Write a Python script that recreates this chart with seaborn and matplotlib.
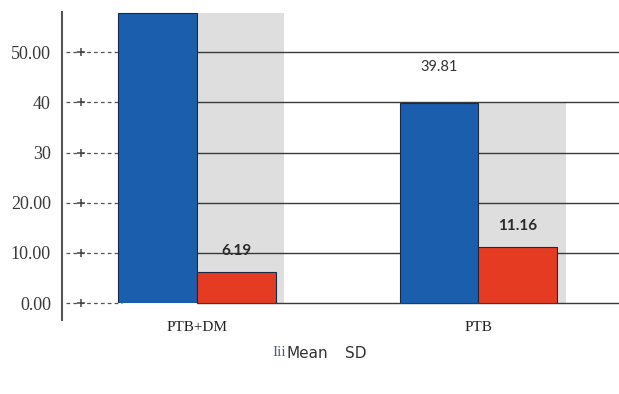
import numpy as np
import pandas as pd
import matplotlib
matplotlib.use("Agg")
import matplotlib.pyplot as plt
import matplotlib.transforms as mtransforms
import seaborn as sns

# Data
groups = ["PTB+DM", "PTB"]
series = ["Mean", "SD"]
mean_values = [57.8, 39.81]
sd_values = [6.19, 11.16]
y_ticks = [0, 10, 20, 30, 40, 50]
y_tick_labels = ["0.00", "10.00", "20.00", "30", "40", "50.00"]

df = pd.DataFrame({
    "group": groups * 2,
    "series": [series[0]] * len(groups) + [series[1]] * len(groups),
    "value": mean_values + sd_values,
})

sns.set_theme(style="white")
plt.rcParams["font.family"] = ["Liberation Serif", "DejaVu Serif"]

fig = plt.figure(figsize=(6.19, 3.94), dpi=100)
ax = fig.add_axes([62 / 619, 91 / 394, 557 / 619, 301 / 394])
blend = mtransforms.blended_transform_factory(ax.transAxes, ax.transData)

# grey backdrop behind each SD bar, reaching up to the group's mean
ax.bar(np.arange(len(groups)), mean_values, width=0.31, align="edge",
       color="#dedede", edgecolor="none", zorder=0)

# horizontal rules: solid across the plot, dashed stubs next to the axis
for t in y_ticks:
    ax.axhline(t, xmin=0.242, xmax=1.0, color="#3a3a3a", lw=1.0, zorder=1,
               clip_on=False)
    ax.axhline(t, xmin=0.008, xmax=0.108, color="#555555", lw=0.9,
               ls=(0, (3, 2.5)), zorder=1, clip_on=False)
    ax.plot([0.035], [t], marker="+", ms=6, mew=1.1, color="#444444",
            transform=blend, clip_on=False, zorder=2)

sns.barplot(data=df, x="group", y="value", hue="series", order=groups,
            hue_order=series, palette=["#1b5eae", "#e53b22"], width=0.56,
            dodge=True, saturation=1, edgecolor="#1a2a45", linewidth=0.8,
            legend=False, ax=ax, zorder=3)

# value labels
mean_cont, sd_cont = ax.containers[-2], ax.containers[-1]
p = mean_cont.patches[1]
ax.annotate(f"{mean_values[1]:.2f}", (p.get_x() + p.get_width() / 2, p.get_height()),
            xytext=(0, 21), textcoords="offset points", ha="center", va="bottom",
            fontsize=10.5, family="Lato", color="#333333")
ax.bar_label(sd_cont, labels=[f"{v:.2f}" for v in sd_values], padding=10,
             fontsize=11, family="Lato", fontweight="bold", color="#2a2a2a")

ax.set_xlim(-0.48, 1.5)
ax.set_ylim(0, 60)
ax.set_yticks(y_ticks, y_tick_labels)
ax.tick_params(axis="y", length=0, pad=8, labelsize=13, labelcolor="#3a3a3a")
ax.tick_params(axis="x", length=0, pad=13, labelsize=11, labelcolor="#222222")
ax.set_xlabel("")
ax.set_ylabel("")

for side in ["top", "right", "bottom"]:
    ax.spines[side].set_visible(False)
ax.spines["left"].set_color("#555555")
ax.spines["left"].set_linewidth(1.5)
ax.spines["left"].set_bounds(-3.4, 58.0)
ax.patch.set_alpha(0)

# legend text
fig.text(272 / 619, 1 - 353 / 394, "Iii", color="#4a5f80", fontsize=11,
         family="Liberation Serif", va="center", ha="left")
fig.text(287 / 619, 1 - 353 / 394, "Mean", color="#333333", fontsize=11,
         family="Liberation Sans Narrow", va="center", ha="left")
fig.text(345 / 619, 1 - 353 / 394, "SD", color="#333333", fontsize=11,
         family="Liberation Sans Narrow", va="center", ha="left")

fig.savefig("out.png", dpi=100)
